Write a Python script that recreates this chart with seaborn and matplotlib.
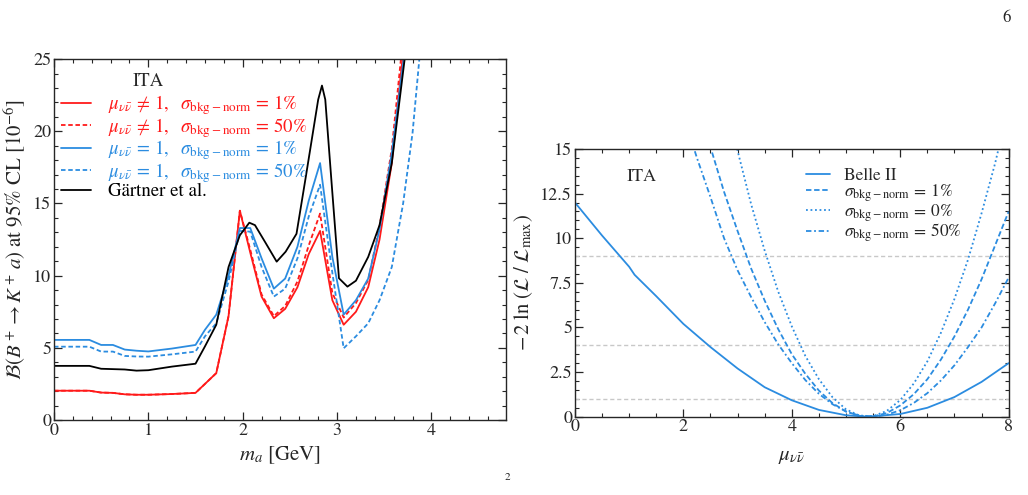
import numpy as np
import pandas as pd
import matplotlib
matplotlib.use("Agg")
import matplotlib.pyplot as plt
import seaborn as sns
from matplotlib.ticker import MultipleLocator, FormatStrFormatter

sns.set_style("ticks")
plt.rcParams['font.family'] = ['STIXGeneral', 'DejaVu Serif']
plt.rcParams['mathtext.fontset'] = 'stix'

RED = '#ff1a1a'
BLUE = '#2b8ce0'

# left panel: limits on B(B+ -> K+ a) vs m_a
ma = [0, 0.375, 0.5, 0.625, 0.75, 0.875, 1.0, 1.25, 1.5, 1.6, 1.72, 1.85, 1.97, 2.08,
      2.2, 2.33, 2.45, 2.58, 2.7, 2.82, 2.95, 3.07, 3.2, 3.33, 3.45, 3.58, 3.7, 3.8, 3.9]
red_1 = [2.03, 2.03, 1.9, 1.88, 1.78, 1.75, 1.75, 1.8, 1.88, 2.5, 3.25, 7.2, 14.5, 11.6,
         8.55, 7.05, 7.7, 9.2, 11.5, 13.1, 8.3, 6.6, 7.5, 9.2, 12.5, 17.8, 25.5, 31, 37]
red_50 = [2.03, 2.03, 1.9, 1.88, 1.78, 1.75, 1.75, 1.8, 1.88, 2.5, 3.25, 7.2, 14.5, 11.8,
          8.7, 7.2, 7.9, 9.6, 12.1, 14.3, 8.8, 7.1, 8.1, 9.7, 13.4, 18.8, 26.5, 32, 38]
blue_1 = [5.55, 5.55, 5.2, 5.2, 4.88, 4.8, 4.75, 4.95, 5.2, 6.25, 7.3, 10.0, 13.3, 13.3,
          11.2, 9.1, 9.8, 12.0, 15.2, 17.8, 11.3, 7.3, 8.3, 9.8, 13.2, 18.5, 24.7, 30, 36]
blue_50 = [5.08, 5.08, 4.74, 4.74, 4.44, 4.4, 4.39, 4.55, 4.74, 5.8, 6.7, 9.6, 13.1, 13.05,
           10.6, 8.55, 9.1, 11.2, 14.1, 16.3, 10.2, 4.97, 5.8, 6.7, 8.3, 10.6, 15.0, 19.9, 27]
ma_g = [0, 0.375, 0.5, 0.75, 0.875, 1.0, 1.25, 1.5, 1.6, 1.72, 1.85, 1.97, 2.07, 2.13,
        2.24, 2.36, 2.455, 2.57, 2.67, 2.8, 2.84, 2.875, 2.94, 3.02, 3.11, 3.2, 3.33,
        3.45, 3.58, 3.72]
gartner = [3.75, 3.75, 3.55, 3.5, 3.42, 3.45, 3.7, 3.9, 5.1, 6.6, 10.6, 12.8, 13.67, 13.5,
           12.3, 10.97, 11.66, 12.9, 16.9, 22.2, 23.17, 22.2, 16.6, 9.82, 9.24, 9.65, 11.3,
           13.5, 17.8, 25.2]

# right panel: -2 ln(L/Lmax) vs mu
mu_b = [0, 0.5, 1.0, 1.1, 1.5, 2.0, 2.5, 3.0, 3.5, 4.0, 4.5, 5.0, 5.4, 6.0, 6.5, 7.0, 7.5, 8.0]
belle = [12.0, 10.15, 8.4, 7.95, 6.75, 5.2, 3.9, 2.7, 1.65, 0.92, 0.38, 0.08, 0.0, 0.15,
         0.5, 1.1, 1.95, 3.0]
mu = [2.0, 2.25, 2.5, 2.75, 3.0, 3.25, 3.5, 3.75, 4.0, 4.25, 4.5, 4.75, 5.0, 5.25, 5.5,
      5.75, 6.0, 6.25, 6.5, 6.75, 7.0, 7.25, 7.5, 7.75, 8.0]
sig_1 = [20.5, 17.7, 15.1, 12.6, 10.4, 8.3, 6.5, 4.9, 3.5, 2.4, 1.46, 0.76, 0.29, 0.04,
         0.02, 0.2, 0.63, 1.26, 2.1, 3.2, 4.5, 6.0, 7.7, 9.6, 11.5]
sig_0 = [29.8, 25.8, 21.7, 18.1, 14.9, 11.9, 9.3, 7.0, 5.06, 3.4, 2.1, 1.09, 0.41, 0.06,
         0.03, 0.32, 0.93, 1.86, 3.1, 4.7, 6.6, 8.8, 11.4, 14.2, 17.4]
sig_50 = [16.9, 14.5, 12.3, 10.0, 8.2, 6.7, 5.3, 4.05, 3.0, 2.05, 1.28, 0.7, 0.29, 0.06,
          0.0, 0.11, 0.36, 0.77, 1.32, 2.03, 2.88, 3.9, 5.0, 6.35, 7.8]

fig = plt.figure(figsize=(10.28, 4.95), dpi=100)
ax1 = fig.add_axes([0.0525, 0.1515, 0.4397, 0.729])
ax2 = fig.add_axes([0.5593, 0.1582, 0.4219, 0.5408])

lw = 1.3
left = pd.DataFrame({'ma': ma, 'r1': red_1, 'r50': red_50, 'b1': blue_1, 'b50': blue_50})
sig = r'\sigma_{\mathrm{bkg-norm}}\,=\,'
lab_r1 = r'$\mu_{\nu\bar{\nu}}\,\neq\,1,\ \ ' + sig + r'1\%$'
lab_r50 = r'$\mu_{\nu\bar{\nu}}\,\neq\,1,\ \ ' + sig + r'50\%$'
lab_b1 = r'$\mu_{\nu\bar{\nu}}\,=\,1,\ \ ' + sig + r'1\%$'
lab_b50 = r'$\mu_{\nu\bar{\nu}}\,=\,1,\ \ ' + sig + r'50\%$'
sns.lineplot(data=left, x='ma', y='r1', ax=ax1, color=RED, lw=lw, label=lab_r1)
sns.lineplot(data=left, x='ma', y='r50', ax=ax1, color=RED, lw=lw, ls=(0, (2.5, 1.5)), label=lab_r50)
sns.lineplot(data=left, x='ma', y='b1', ax=ax1, color=BLUE, lw=lw, label=lab_b1)
sns.lineplot(data=left, x='ma', y='b50', ax=ax1, color=BLUE, lw=lw, ls=(0, (2.5, 1.5)), label=lab_b50)
sns.lineplot(x=ma_g, y=gartner, ax=ax1, color='black', lw=lw, label='Gärtner et al.')

ax1.set_xlim(0, 4.79)
ax1.set_ylim(0, 25)
ax1.xaxis.set_major_locator(MultipleLocator(1))
ax1.xaxis.set_minor_locator(MultipleLocator(0.2))
ax1.yaxis.set_major_locator(MultipleLocator(5))
ax1.yaxis.set_minor_locator(MultipleLocator(1))
ax1.set_xlabel(r'$m_a$ [GeV]', fontsize=15, labelpad=4)
ax1.set_ylabel(r'$\mathcal{B}(B^+\to K^+\,a)$ at 95% CL $[10^{-6}]$', fontsize=15, labelpad=4)
ax1.text(0.208, 0.939, 'ITA', transform=ax1.transAxes, fontsize=13.5, ha='center', va='center')
ax1.legend(loc='upper left', bbox_to_anchor=(0.015, 0.905), frameon=False,
           fontsize=13.5, handlelength=1.6, handletextpad=0.9, borderpad=0,
           borderaxespad=0, labelspacing=-0.08, labelcolor='linecolor')

# right panel
for yv in [1, 4, 9]:
    ax2.axhline(yv, color='#c8c8c8', lw=1.0, ls=(0, (3, 2)), zorder=1)
sns.lineplot(x=mu_b, y=belle, ax=ax2, color=BLUE, lw=lw, label='Belle II')
sns.lineplot(x=mu, y=sig_1, ax=ax2, color=BLUE, lw=lw, ls=(0, (3, 1.5)),
             label=r'$\sigma_{\mathrm{bkg-norm}}\,=\,1\%$')
sns.lineplot(x=mu, y=sig_0, ax=ax2, color=BLUE, lw=lw, ls=(0, (1, 1.5)),
             label=r'$\sigma_{\mathrm{bkg-norm}}\,=\,0\%$')
sns.lineplot(x=mu, y=sig_50, ax=ax2, color=BLUE, lw=lw, ls=(0, (3, 1.5, 1, 1.5)),
             label=r'$\sigma_{\mathrm{bkg-norm}}\,=\,50\%$')
ax2.set_xlim(0, 8)
ax2.set_ylim(0, 15)
ax2.xaxis.set_major_locator(MultipleLocator(2))
ax2.xaxis.set_minor_locator(MultipleLocator(0.5))
ax2.yaxis.set_major_locator(MultipleLocator(2.5))
ax2.yaxis.set_minor_locator(MultipleLocator(0.5))
ax2.yaxis.set_major_formatter(FormatStrFormatter('%g'))
ax2.set_xlabel(r'$\mu_{\nu\bar{\nu}}$', fontsize=15, labelpad=8)
ax2.set_ylabel(r'$-\,2\;\ln\,(\mathcal{L}\;/\;\mathcal{L}_{\max})$', fontsize=15, labelpad=4)
ax2.text(0.12, 0.88, 'ITA', transform=ax2.transAxes, fontsize=13)
ax2.legend(loc='upper left', bbox_to_anchor=(0.533, 0.93), frameon=False, fontsize=12.5,
           handlelength=1.4, handletextpad=0.8, borderpad=0, borderaxespad=0,
           labelspacing=-0.1)

for ax in (ax1, ax2):
    ax.tick_params(which='both', direction='in', top=True, right=True, labelsize=13, pad=2)
    ax.tick_params(which='major', length=6, width=0.9)
    ax.tick_params(which='minor', length=3, width=0.8)
    for s in ax.spines.values():
        s.set_linewidth(1.0)

fig.text(0.9755, 0.955, '6', fontsize=12)
fig.text(0.491, 0.03, '2', fontsize=8)

fig.savefig('out.png', dpi=100)
